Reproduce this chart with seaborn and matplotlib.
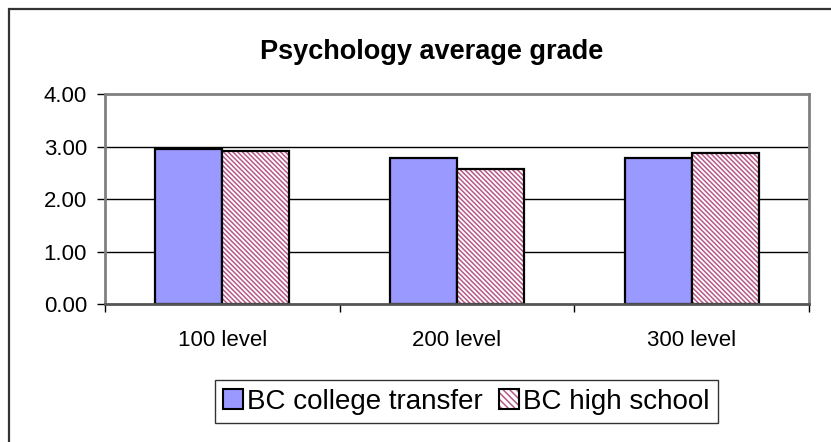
import pandas as pd
import seaborn as sns
import matplotlib.pyplot as plt
from matplotlib.patches import Rectangle
from matplotlib.ticker import FixedLocator
from matplotlib.legend_handler import HandlerTuple

sns.set_theme(style="white")
plt.rcParams['font.family'] = ['Liberation Sans', 'DejaVu Sans']
plt.rcParams['hatch.linewidth'] = 1.1
plt.rcParams['text.color'] = 'black'
plt.rcParams['xtick.color'] = 'black'
plt.rcParams['ytick.color'] = 'black'

# Data
levels = ['100 level', '200 level', '300 level']
college_transfer = [2.95, 2.78, 2.79]
high_school = [2.92, 2.58, 2.87]
series = ['BC college transfer', 'BC high school']

data = pd.DataFrame({
    'level': levels * 2,
    'grade': college_transfer + high_school,
    'group': [series[0]] * 3 + [series[1]] * 3,
})

fig = plt.figure(figsize=(8.31, 4.42), dpi=100)
ax = fig.add_axes([0.1264, 0.3122, 0.8471, 0.4751])

sns.barplot(data=data, x='level', y='grade', hue='group', ax=ax,
            palette=['#9999ff', 'white'], width=0.57, saturation=1,
            edgecolor='black', linewidth=1.6, legend=False)

# hatch the second series in mauve, keep a black outline on top
hatch_col = '#b85888'
hatch = '\\' * 7
n = len(levels)
for p in ax.patches[n:2 * n]:
    p.set_hatch(hatch)
    p.set_edgecolor(hatch_col)
    p.set_linewidth(0)
    ax.add_patch(Rectangle(p.get_xy(), p.get_width(), p.get_height(),
                           fill=False, edgecolor='black', lw=1.6, zorder=p.get_zorder() + 0.1))

ax.set_ylim(0, 4)
ax.set_xlim(-0.5, 2.5)
ax.set_yticks([0, 1, 2, 3, 4])
ax.set_yticklabels([f'{v:.2f}' for v in [0, 1, 2, 3, 4]], fontsize=16)
ax.tick_params(axis='x', which='major', length=0, labelsize=16, pad=19, colors='black')
ax.xaxis.set_minor_locator(FixedLocator([-0.5, 0.5, 1.5, 2.5]))
ax.tick_params(axis='x', which='minor', bottom=True, length=6, width=1, color='black')
ax.tick_params(axis='y', left=True, length=6, width=1, color='black', labelsize=16, pad=7)
ax.set_xlabel('')
ax.set_ylabel('')

for v in [1, 2, 3]:
    ax.axhline(v, color='black', lw=1, zorder=0)

for side in ['top', 'right', 'left']:
    ax.spines[side].set_color('#808080')
    ax.spines[side].set_linewidth(2)
ax.spines['bottom'].set_color('#555555')
ax.spines['bottom'].set_linewidth(2)

fig.text(0.519, 0.882, 'Psychology average grade', ha='center', va='center',
         fontsize=19.5, fontweight='bold', color='black')

# legend
h1 = Rectangle((0, 0), 1, 1, facecolor='#9999ff', edgecolor='black', lw=1.5)
h2_fill = Rectangle((0, 0), 1, 1, facecolor='white', edgecolor=hatch_col, lw=0, hatch='\\' * 5)
h2_edge = Rectangle((0, 0), 1, 1, fill=False, edgecolor='black', lw=1.5)
leg = fig.legend([h1, (h2_fill, h2_edge)], series, loc='center',
                 bbox_to_anchor=(0.561, 0.091), ncol=2,
                 handler_map={tuple: HandlerTuple(ndivide=1, pad=0)},
                 fontsize=20, frameon=True, fancybox=False, edgecolor='black',
                 handlelength=0.7, handleheight=0.7, handletextpad=0.15,
                 columnspacing=0.6, borderpad=0.3, labelcolor='black')
leg.get_frame().set_linewidth(1)

# outer chart border
fig.patches.append(Rectangle((0.011, -0.01), 1.1, 0.99, transform=fig.transFigure,
                             fill=False, edgecolor='#333333', lw=1.6))

fig.savefig('out.png', dpi=100)
